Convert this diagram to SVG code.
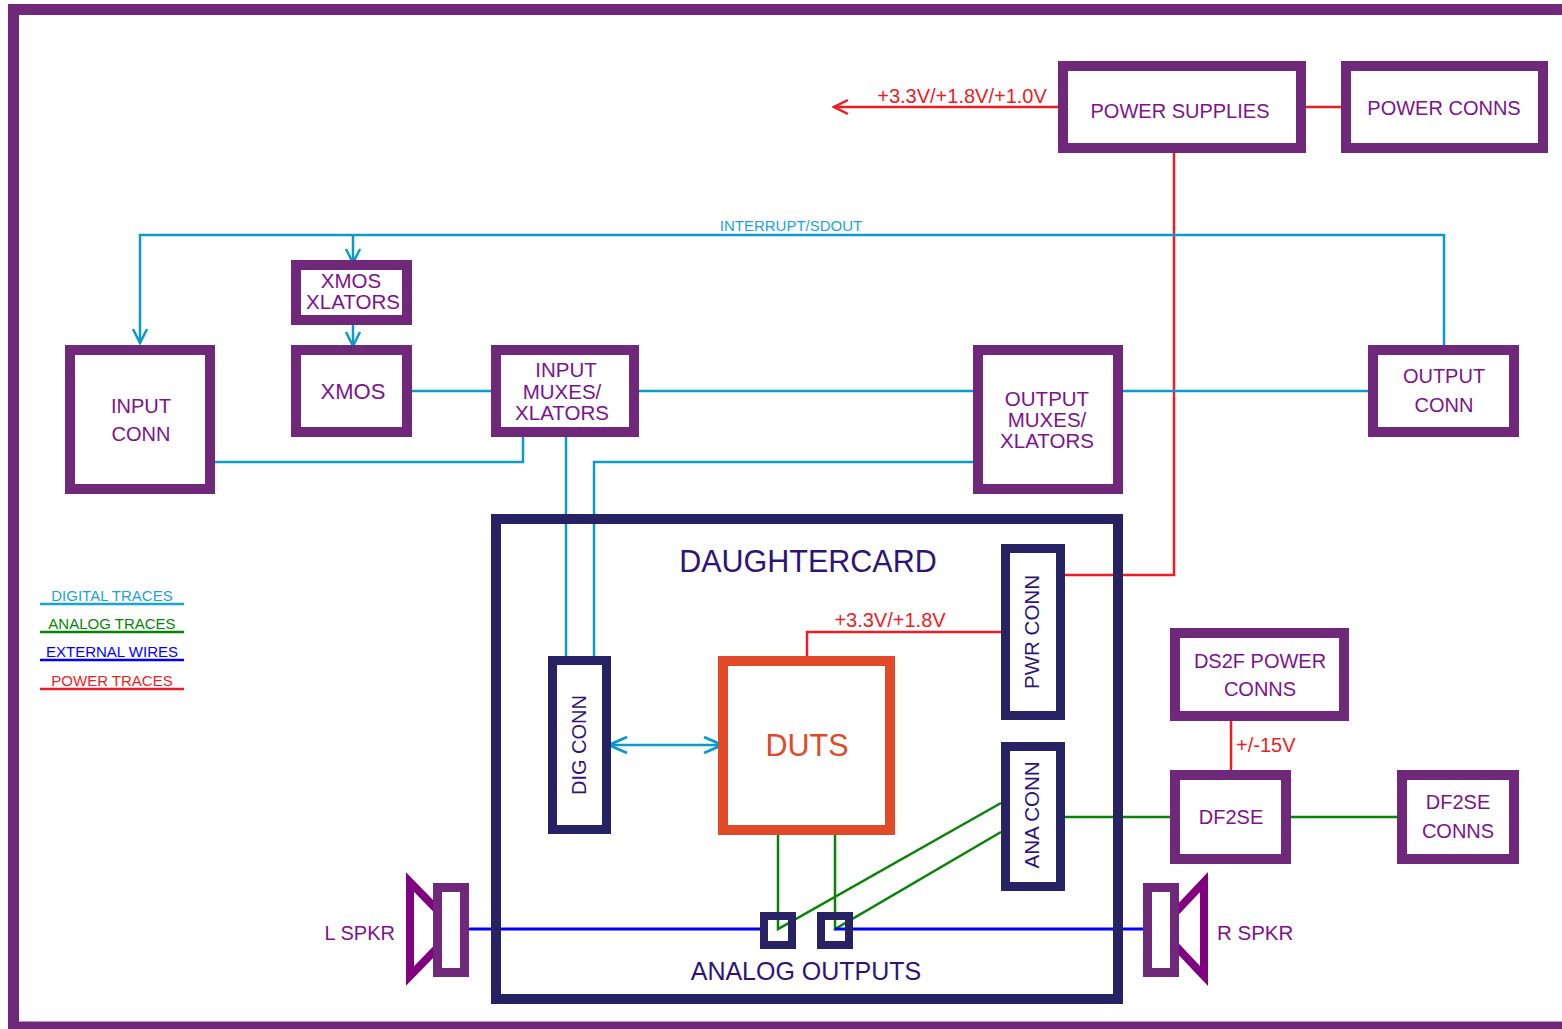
<svg xmlns="http://www.w3.org/2000/svg" width="1562" height="1029" viewBox="0 0 1562 1029">
<defs>
<style>
.box{fill:#fff;stroke:#70297A;stroke-width:10}
.nbox{fill:#fff;stroke:#272263;stroke-width:9}
.t{font-family:"Liberation Sans",Arial,sans-serif;fill:#7E118C;text-anchor:middle}
.tn{font-family:"Liberation Sans",Arial,sans-serif;fill:#2E1478;text-anchor:middle}
.cy{fill:none;stroke:#0A9ACC;stroke-width:2.5}
.rd{fill:none;stroke:#EE1C25;stroke-width:2.5}
.gr{fill:none;stroke:#078407;stroke-width:2.5}
.bl{fill:none;stroke:#0000FF;stroke-width:3}
</style>
<marker id="ac" viewBox="0 0 20 20" refX="18" refY="10" markerWidth="20" markerHeight="20" markerUnits="userSpaceOnUse" orient="auto-start-reverse">
<path d="M4,3 L18,10 L4,17" fill="none" stroke="#0A9ACC" stroke-width="2.5"/>
</marker>
<marker id="ac2" viewBox="0 0 24 24" refX="22" refY="12" markerWidth="24" markerHeight="24" markerUnits="userSpaceOnUse" orient="auto-start-reverse">
<path d="M4,4 L22,12 L4,20" fill="none" stroke="#0A9ACC" stroke-width="3"/>
</marker>
<marker id="ar" viewBox="0 0 20 20" refX="18" refY="10" markerWidth="20" markerHeight="20" markerUnits="userSpaceOnUse" orient="auto">
<path d="M4,3 L18,10 L4,17" fill="none" stroke="#EE1C25" stroke-width="2.5"/>
</marker>
</defs>
<rect width="1562" height="1029" fill="#fff"/>
<rect x="13.5" y="9.5" width="1600" height="1017.5" fill="none" stroke="#70297A" stroke-width="11"/>

<g id="connectors">
<line class="rd" x1="1058" y1="107" x2="834" y2="107" marker-end="url(#ar)"/>
<line class="rd" x1="1306" y1="107" x2="1341" y2="107"/>
<polyline class="rd" points="1174,153 1174,575 1062,575"/>
<polyline class="rd" points="1001,632 807,632 807,660"/>
<line class="rd" x1="1231" y1="721" x2="1231" y2="771"/>
<polyline class="cy" points="140,343 140,235 1444,235 1444,345" marker-start="url(#ac)"/>
<line class="cy" x1="353" y1="235" x2="353" y2="263" marker-end="url(#ac)"/>
<line class="cy" x1="353" y1="323" x2="353" y2="346" marker-end="url(#ac)"/>
<line class="cy" x1="412" y1="391" x2="491" y2="391"/>
<line class="cy" x1="639" y1="391" x2="973" y2="391"/>
<line class="cy" x1="1123" y1="391" x2="1368" y2="391"/>
<polyline class="cy" points="215,462 523,462 523,437"/>
<line class="cy" x1="566" y1="437" x2="566" y2="660"/>
<polyline class="cy" points="973,462 594,462 594,660"/>
<line class="cy" x1="609" y1="745" x2="722" y2="745" stroke-width="3" marker-start="url(#ac2)" marker-end="url(#ac2)"/>
<polyline class="gr" points="778,830 778,929 1001,803"/>
<polyline class="gr" points="835,830 835,929 1001,832"/>
<line class="gr" x1="1065" y1="817" x2="1170" y2="817"/>
<line class="gr" x1="1291" y1="817" x2="1397" y2="817"/>
<line class="bl" x1="466" y1="929" x2="765" y2="929"/>
<line class="bl" x1="835" y1="929" x2="1146" y2="929"/>
</g>

<text class="t" x="962" y="103" font-size="20" style="fill:#EE1C25">+3.3V/+1.8V/+1.0V</text>
<text class="t" x="791" y="231" font-size="15" style="fill:#1AA3D6">INTERRUPT/SDOUT</text>
<text class="t" x="890" y="627" font-size="20" style="fill:#EE1C25">+3.3V/+1.8V</text>
<text class="t" x="1236" y="752" font-size="20" style="fill:#EE1C25;text-anchor:start">+/-15V</text>

<g id="power-supplies"><rect class="box" x="1063" y="66" width="238" height="82"/><text class="t" x="1180" y="118" font-size="20">POWER SUPPLIES</text></g>
<g id="power-conns"><rect class="box" x="1346" y="66" width="197" height="82"/><text class="t" x="1444" y="115" font-size="20">POWER CONNS</text></g>
<g id="xmos-xlators"><rect class="box" x="296" y="265" width="111" height="55"/><text class="t" x="351" y="288" font-size="20.5">XMOS</text><text class="t" x="353" y="309" font-size="20.5">XLATORS</text></g>
<g id="xmos"><rect class="box" x="296" y="350" width="111" height="82"/><text class="t" x="353" y="399" font-size="22">XMOS</text></g>
<g id="input-conn"><rect class="box" x="70" y="350" width="140" height="139"/><text class="t" x="141" y="413" font-size="20">INPUT</text><text class="t" x="141" y="441" font-size="20">CONN</text></g>
<g id="input-muxes"><rect class="box" x="496" y="350" width="138" height="82"/><text class="t" x="566" y="377" font-size="20.5">INPUT</text><text class="t" x="562" y="399" font-size="20.5">MUXES/</text><text class="t" x="562" y="420" font-size="20.5">XLATORS</text></g>
<g id="output-muxes"><rect class="box" x="978" y="350" width="140" height="139"/><text class="t" x="1047" y="406" font-size="20.5">OUTPUT</text><text class="t" x="1047" y="427" font-size="20.5">MUXES/</text><text class="t" x="1047" y="448" font-size="20.5">XLATORS</text></g>
<g id="output-conn"><rect class="box" x="1373" y="350" width="141" height="82"/><text class="t" x="1444" y="383" font-size="20">OUTPUT</text><text class="t" x="1444" y="412" font-size="20">CONN</text></g>

<g id="daughtercard"><rect x="496" y="519" width="622" height="480" fill="none" stroke="#272263" stroke-width="10"/><text class="tn" x="808" y="572" font-size="30.5">DAUGHTERCARD</text><text class="tn" x="806" y="980" font-size="25">ANALOG OUTPUTS</text></g>
<g id="dig-conn"><rect class="nbox" x="552.5" y="660.5" width="54" height="169"/><text class="tn" x="0" y="0" font-size="20" transform="translate(586,745) rotate(-90)">DIG CONN</text></g>
<g id="pwr-conn"><rect class="nbox" x="1005.5" y="548.5" width="55" height="167"/><text class="tn" x="0" y="0" font-size="20.5" transform="translate(1039,632) rotate(-90)">PWR CONN</text></g>
<g id="ana-conn"><rect class="nbox" x="1005.5" y="746.5" width="55" height="140"/><text class="tn" x="0" y="0" font-size="20.5" transform="translate(1039,815) rotate(-90)">ANA CONN</text></g>
<g id="duts"><rect x="723" y="661" width="167" height="169" fill="none" stroke="#E04A28" stroke-width="10"/><text class="t" x="807" y="756" font-size="30.5" style="fill:#E04A28">DUTS</text></g>
<g id="analog-out-l"><rect x="764" y="916" width="28" height="29" fill="none" stroke="#272263" stroke-width="8"/></g>
<g id="analog-out-r"><rect x="821" y="916" width="28" height="29" fill="none" stroke="#272263" stroke-width="8"/></g>

<g id="ds2f-power-conns"><rect class="box" x="1175" y="633" width="169" height="83"/><text class="t" x="1260" y="668" font-size="20">DS2F POWER</text><text class="t" x="1260" y="696" font-size="20">CONNS</text></g>
<g id="df2se"><rect class="box" x="1175" y="775" width="111" height="84"/><text class="t" x="1231" y="824" font-size="20">DF2SE</text></g>
<g id="df2se-conns"><rect class="box" x="1402" y="775" width="112" height="84"/><text class="t" x="1458" y="809" font-size="20">DF2SE</text><text class="t" x="1458" y="838" font-size="20">CONNS</text></g>

<g id="l-spkr">
<polyline points="445,918 410,882 410,976 445,940" fill="none" stroke="#800080" stroke-width="8" stroke-linecap="round"/>
<rect x="437.5" y="887.5" width="27" height="85" fill="#fff" stroke="#70297A" stroke-width="9"/>
<text class="t" x="395" y="940" font-size="20" style="text-anchor:end">L SPKR</text>
</g>
<g id="r-spkr">
<polyline points="1170,918 1204,882 1204,976 1170,940" fill="none" stroke="#800080" stroke-width="8" stroke-linecap="round"/>
<rect x="1147.5" y="887.5" width="27" height="85" fill="#fff" stroke="#70297A" stroke-width="9"/>
<text class="t" x="1217" y="940" font-size="20.5" style="text-anchor:start">R SPKR</text>
</g>

<g id="legend" font-family="'Liberation Sans',Arial,sans-serif" font-size="15" text-anchor="middle">
<text x="112" y="601" fill="#1AA3D6">DIGITAL TRACES</text><line x1="40" y1="604" x2="184" y2="604" stroke="#1AA3D6" stroke-width="2.5"/>
<text x="112" y="629" fill="#078407">ANALOG TRACES</text><line x1="40" y1="632" x2="184" y2="632" stroke="#078407" stroke-width="2.5"/>
<text x="112" y="657" fill="#0000FF">EXTERNAL WIRES</text><line x1="40" y1="660" x2="184" y2="660" stroke="#0000FF" stroke-width="2.5"/>
<text x="112" y="686" fill="#EE1C25">POWER TRACES</text><line x1="40" y1="689" x2="184" y2="689" stroke="#EE1C25" stroke-width="2.5"/>
</g>
</svg>
